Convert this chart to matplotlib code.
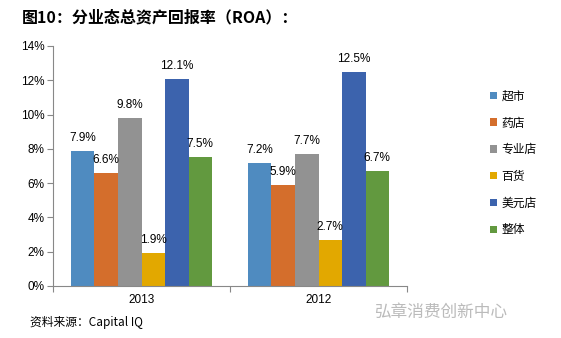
import numpy as np
import matplotlib
matplotlib.use("Agg")
import matplotlib.pyplot as plt

plt.rcParams['font.family'] = ['Liberation Sans', 'Noto Sans CJK SC', 'DejaVu Sans']

# datos
years = ["2013", "2012"]
formats = ["超市", "药店", "专业店", "百货", "美元店", "整体"]
roa_2013 = [7.9, 6.6, 9.8, 1.9, 12.1, 7.5]
roa_2012 = [7.2, 5.9, 7.7, 2.7, 12.5, 6.7]
colores = ["#4F8BC0", "#D46E2C", "#929292", "#E2A800", "#3C63AD", "#62993F"]

valores = np.array([roa_2013, roa_2012])

fig = plt.figure(figsize=(5.61, 3.38), dpi=100)
W, H = 561, 338
ax = fig.add_axes([53 / W, (H - 286) / H, (407 - 53) / W, (286 - 46) / H])

x = np.arange(len(years))
n = len(formats)
ancho = 0.797 / n
for i in range(n):
    pos = x - 0.797 / 2 + ancho * (i + 0.5)
    barras = ax.bar(pos, valores[:, i], width=ancho, color=colores[i], label=formats[i])
    for b, v in zip(barras, valores[:, i]):
        ax.annotate(f"{v:.1f}%", (b.get_x() + b.get_width() / 2, v),
                    xytext=(0, 5), textcoords="offset points",
                    ha="center", va="bottom", fontsize=8.5, color="black")

ax.set_xlim(-0.5, 1.5)
ax.set_ylim(0, 14)
ax.set_yticks(np.arange(0, 15, 2))
ax.set_yticklabels([f"{t}%" for t in range(0, 15, 2)], fontsize=8.5)
ax.set_xticks([-0.5, 0.5, 1.5], minor=False)
ax.set_xticklabels(["", "", ""])
ax.set_xticks(x, minor=True)
ax.set_xticklabels(years, minor=True, fontsize=8.5)
ax.tick_params(axis="x", which="minor", length=0, pad=6)
ax.tick_params(axis="x", which="major", length=4, color="#888888")
ax.tick_params(axis="y", length=4, color="#888888", pad=2)
for lado in ["top", "right"]:
    ax.spines[lado].set_visible(False)
for lado in ["left", "bottom"]:
    ax.spines[lado].set_color("#888888")

# leyenda
ax.legend(loc="upper left", bbox_to_anchor=(479 / W, (H - 80) / H),
          bbox_transform=fig.transFigure, frameon=False, fontsize=8.5,
          handlelength=0.6, handleheight=0.6, handletextpad=0.4,
          labelspacing=1.25)

fig.text(22 / W, (H - 17) / H, "图10：分业态总资产回报率（ROA）：",
         fontsize=11.5, fontweight="bold", va="center", ha="left",
         family=['Noto Sans CJK SC', 'DejaVu Sans'])
fig.text(30 / W, (H - 322) / H, "资料来源：Capital IQ", fontsize=8.5,
         style="italic", va="center", ha="left",
         family=['Noto Sans CJK SC', 'DejaVu Sans'])
fig.text(507 / W, (H - 312) / H, "弘章消费创新中心", fontsize=12,
         color="#BBBBBB", va="center", ha="right",
         family=['Noto Sans CJK SC', 'DejaVu Sans'])

fig.savefig("out.png", dpi=100)
